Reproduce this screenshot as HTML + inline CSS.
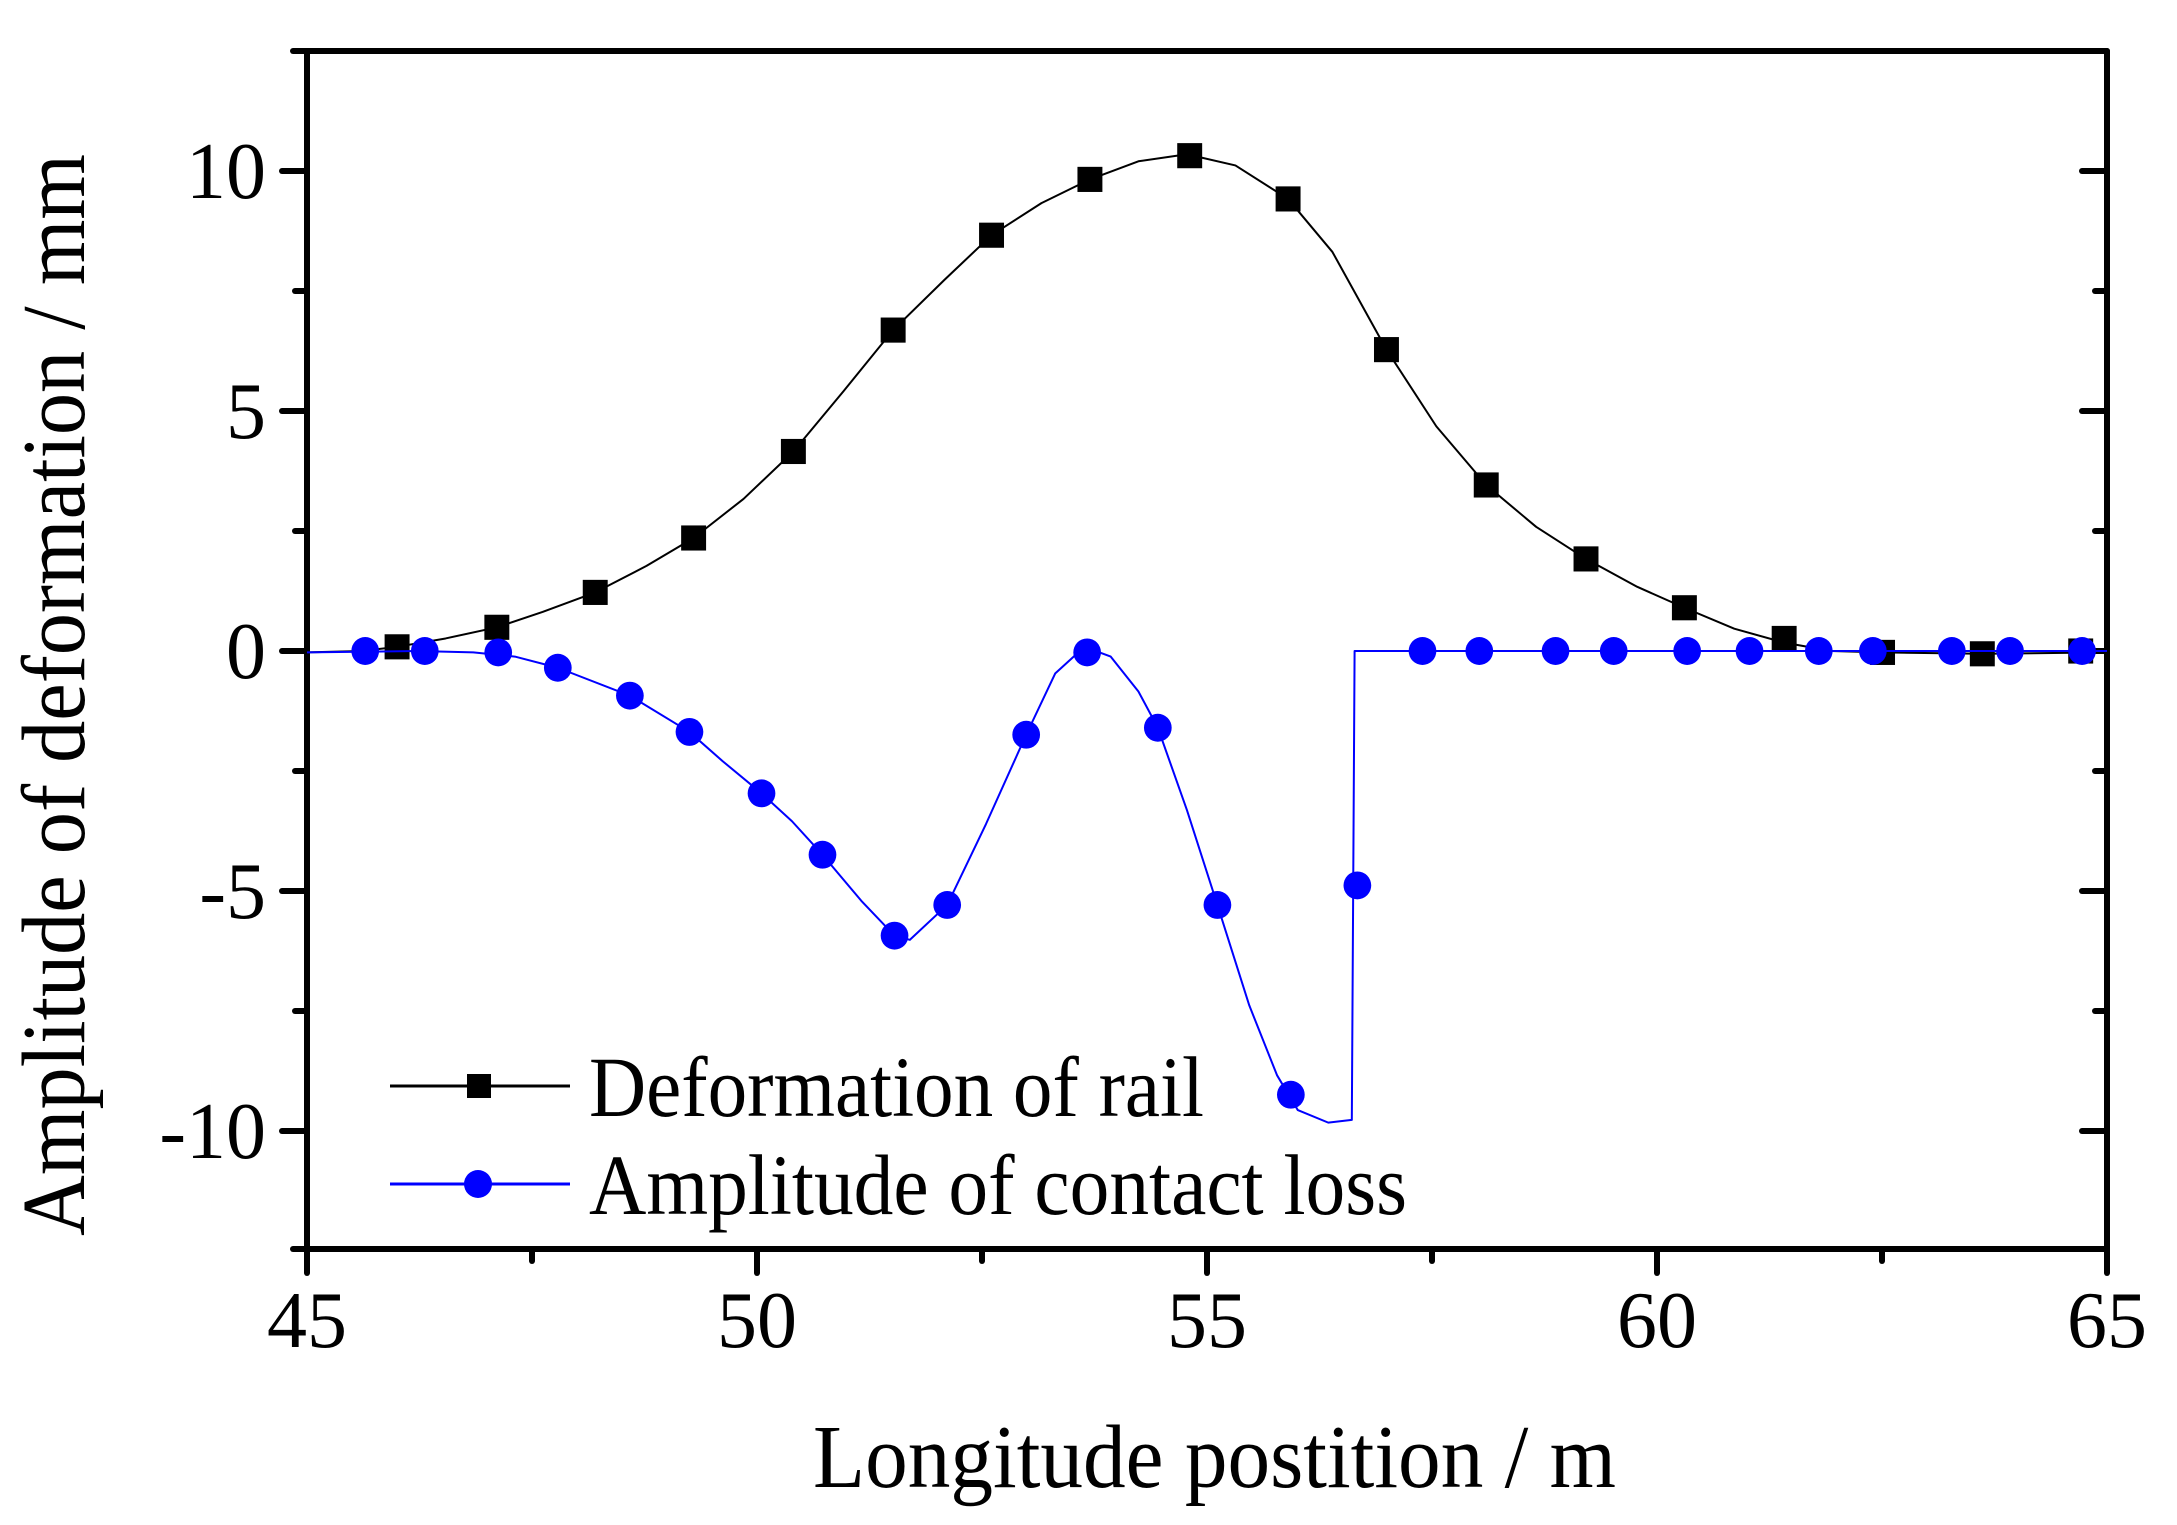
<!DOCTYPE html>
<html><head><meta charset="utf-8"><style>
html,body{margin:0;padding:0;background:#fff}
svg{display:block}
text{font-family:"Liberation Serif",serif;fill:#000}
</style></head><body>
<svg width="2177" height="1525" viewBox="0 0 2177 1525" xmlns="http://www.w3.org/2000/svg">
<g stroke="#000" stroke-width="6" fill="none" stroke-linecap="round">
<line x1="293" y1="51" x2="2107" y2="51"/>
<line x1="307" y1="51" x2="307" y2="1249"/>
<line x1="293" y1="1249" x2="2107" y2="1249"/>
<line x1="2107" y1="51" x2="2107" y2="1249"/>
<line x1="307" y1="1249" x2="307" y2="1273"/>
<line x1="757" y1="1249" x2="757" y2="1273"/>
<line x1="1207" y1="1249" x2="1207" y2="1273"/>
<line x1="1657" y1="1249" x2="1657" y2="1273"/>
<line x1="2107" y1="1249" x2="2107" y2="1273"/>
<line x1="532" y1="1249" x2="532" y2="1261"/>
<line x1="982" y1="1249" x2="982" y2="1261"/>
<line x1="1432" y1="1249" x2="1432" y2="1261"/>
<line x1="1882" y1="1249" x2="1882" y2="1261"/>
<line x1="282" y1="171" x2="307" y2="171"/>
<line x1="282" y1="411" x2="307" y2="411"/>
<line x1="282" y1="651" x2="307" y2="651"/>
<line x1="282" y1="891" x2="307" y2="891"/>
<line x1="282" y1="1131" x2="307" y2="1131"/>
<line x1="295" y1="291" x2="307" y2="291"/>
<line x1="295" y1="531" x2="307" y2="531"/>
<line x1="295" y1="771" x2="307" y2="771"/>
<line x1="295" y1="1011" x2="307" y2="1011"/>
<line x1="2082" y1="171" x2="2107" y2="171"/>
<line x1="2082" y1="411" x2="2107" y2="411"/>
<line x1="2082" y1="651" x2="2107" y2="651"/>
<line x1="2082" y1="891" x2="2107" y2="891"/>
<line x1="2082" y1="1131" x2="2107" y2="1131"/>
<line x1="2095" y1="291" x2="2107" y2="291"/>
<line x1="2095" y1="531" x2="2107" y2="531"/>
<line x1="2095" y1="771" x2="2107" y2="771"/>
<line x1="2095" y1="1011" x2="2107" y2="1011"/>
</g>
<g font-size="80" text-anchor="middle">
<text x="307" y="1347">45</text>
<text x="757" y="1347">50</text>
<text x="1207" y="1347">55</text>
<text x="1657" y="1347">60</text>
<text x="2107" y="1347">65</text>
</g>
<g font-size="80" text-anchor="end">
<text x="266" y="198">10</text>
<text x="266" y="438">5</text>
<text x="266" y="678">0</text>
<text x="266" y="918">-5</text>
<text x="266" y="1158">-10</text>
</g>
<text x="813" y="1487" font-size="90" textLength="803" lengthAdjust="spacingAndGlyphs">Longitude postition / m</text>
<text transform="translate(84,1236) rotate(-90)" font-size="90" textLength="1082" lengthAdjust="spacingAndGlyphs">Amplitude of deformation / mm</text>

<g transform="matrix(1.3857,0,0,1.3953,2.15,0.8)">
<polyline fill="none" stroke="#000" stroke-width="2" vector-effect="non-scaling-stroke" stroke-linejoin="round"
points="220,467 260,466 285,463 320,457 357,449 390,438 428,424 465,405 499,385 535,357 571,323 607,280 643,236 680,200 714,168 750,145 785,128 820,115 855,110 890,118 928,142 960,180 999,250 1035,305 1071,347 1107,377 1143,400 1180,420 1214,435 1250,450 1286,460 1320,466 1357,467 1429,468 1519,467"/>
<g fill="#000">
<rect x="276" y="454" width="18" height="18"/><rect x="348" y="440" width="18" height="18"/>
<rect x="419" y="415" width="18" height="18"/><rect x="490" y="376" width="18" height="18"/>
<rect x="562" y="314" width="18" height="18"/><rect x="634" y="227" width="18" height="18"/>
<rect x="705" y="159" width="18" height="18"/><rect x="776" y="119" width="18" height="18"/>
<rect x="848" y="102" width="18" height="18"/><rect x="919" y="133" width="18" height="18"/>
<rect x="990" y="241" width="18" height="18"/><rect x="1062" y="338" width="18" height="18"/>
<rect x="1134" y="391" width="18" height="18"/><rect x="1205" y="426" width="18" height="18"/>
<rect x="1277" y="448" width="18" height="18"/><rect x="1348" y="458" width="18" height="18"/>
<rect x="1420" y="459" width="18" height="18"/><rect x="1491" y="457" width="18" height="18"/>
</g>
<polyline fill="none" stroke="#0000ff" stroke-width="2" vector-effect="non-scaling-stroke" stroke-linejoin="round"
points="220,467 300,466 340,467 370,470 401,478 453,498 496,524 520,545 548,568 570,588 592,612 620,645 644,670 655,673 682,648 710,590 739,526 760,482 781,463 800,470 820,495 834,521 855,580 877,648 900,720 920,770 935,795 957,804 974,802 976,466 1519,466"/>
<g fill="#0000ff">
<circle cx="262" cy="466" r="10"/><circle cx="305" cy="466" r="10"/><circle cx="358" cy="467" r="10"/>
<circle cx="401" cy="478" r="10"/><circle cx="453" cy="498" r="10"/><circle cx="496" cy="524" r="10"/>
<circle cx="548" cy="568" r="10"/><circle cx="592" cy="612" r="10"/><circle cx="644" cy="670" r="10"/>
<circle cx="682" cy="648" r="10"/><circle cx="739" cy="526" r="10"/><circle cx="783" cy="467" r="10"/>
<circle cx="834" cy="521" r="10"/><circle cx="877" cy="648" r="10"/><circle cx="930" cy="784" r="10"/>
<circle cx="978" cy="634" r="10"/><circle cx="1025" cy="466" r="10"/><circle cx="1066" cy="466" r="10"/>
<circle cx="1121" cy="466" r="10"/><circle cx="1163" cy="466" r="10"/><circle cx="1216" cy="466" r="10"/>
<circle cx="1261" cy="466" r="10"/><circle cx="1311" cy="466" r="10"/><circle cx="1350" cy="466" r="10"/>
<circle cx="1407" cy="466" r="10"/><circle cx="1449" cy="466" r="10"/><circle cx="1501" cy="466" r="10"/>
</g>
</g>

<line x1="390" y1="1086" x2="570" y2="1086" stroke="#000" stroke-width="3"/>
<rect x="467" y="1074" width="24" height="24" fill="#000"/>
<text x="589" y="1116" font-size="86" textLength="615" lengthAdjust="spacingAndGlyphs">Deformation of rail</text>
<line x1="390" y1="1184" x2="570" y2="1184" stroke="#0000ff" stroke-width="3"/>
<circle cx="478" cy="1184" r="14" fill="#0000ff"/>
<text x="589" y="1214" font-size="86" textLength="818" lengthAdjust="spacingAndGlyphs">Amplitude of contact loss</text>
</svg>
</body></html>
